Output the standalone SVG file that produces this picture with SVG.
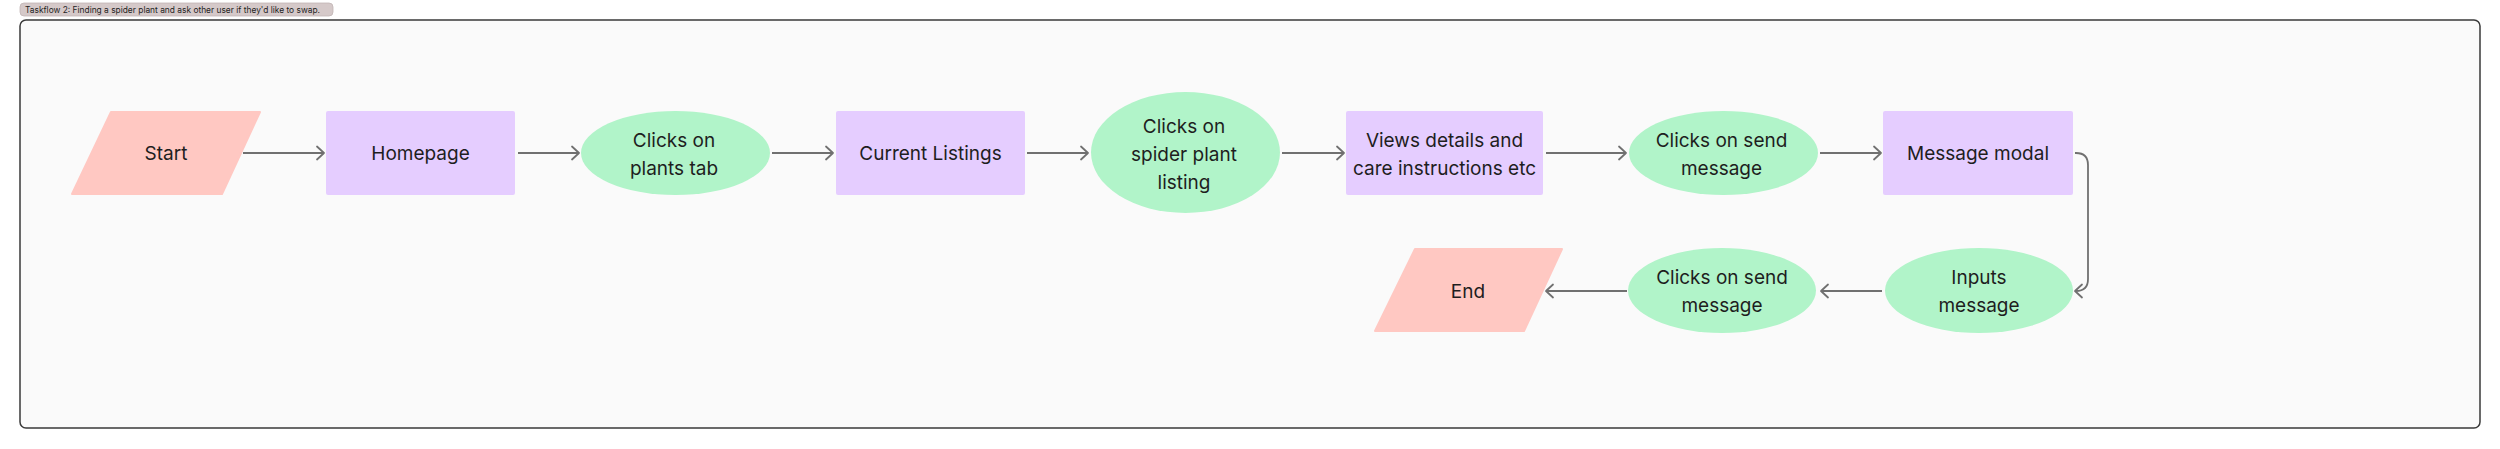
<svg xmlns="http://www.w3.org/2000/svg" width="2500" height="449" viewBox="0 0 2500 449">
<defs>
<style>
.t{font-family:Inter,"Noto Sans","Liberation Sans",sans-serif;font-size:19px;fill:#1e1e1e;text-anchor:middle}
.par{fill:#ffc8c2;stroke:#ffc8c2;stroke-width:2;stroke-linejoin:round}
.rec{fill:#e5cdff}
.ell{fill:#b1f4c9}
.con{fill:none;stroke:#707070;stroke-width:1.8}
</style>
<marker id="ah" markerUnits="userSpaceOnUse" markerWidth="20" markerHeight="20" viewBox="-10 -10 20 20" refX="0" refY="0" orient="auto">
<path d="M-7,-6.5 L0,0 L-7,6.5" fill="none" stroke="#707070" stroke-width="1.8" stroke-linecap="round" stroke-linejoin="round"/>
</marker>
</defs>
<rect x="0" y="0" width="2500" height="449" fill="#ffffff"/>
<g id="title">
<rect x="20" y="3" width="313" height="13" rx="4" fill="#d5c9c9" stroke="#c2b5b5" stroke-width="0.8"/>
<text x="25" y="12.8" style="font-family:Inter,'Noto Sans','Liberation Sans',sans-serif;font-size:8.4px;fill:#1e1e1e">Taskflow 2: Finding a spider plant and ask other user if they'd like to swap.</text>
</g>
<g id="frame">
<rect x="20" y="20" width="2460" height="408" rx="6" fill="#fafafa" stroke="#3a3a3a" stroke-width="1.5"/>
</g>
<g id="connectors">
<path class="con" marker-end="url(#ah)" d="M243,153 L324,153"/>
<path class="con" marker-end="url(#ah)" d="M518,153 L579,153"/>
<path class="con" marker-end="url(#ah)" d="M772,153 L833,153"/>
<path class="con" marker-end="url(#ah)" d="M1027,153 L1088,153"/>
<path class="con" marker-end="url(#ah)" d="M1282,153 L1344,153"/>
<path class="con" marker-end="url(#ah)" d="M1546,153 L1626,153"/>
<path class="con" marker-end="url(#ah)" d="M1820,153 L1881,153"/>
<path class="con" marker-end="url(#ah)" d="M2075,153 L2076,153 Q2088,153 2088,165 L2088,279 Q2088,291 2076,291 L2075,291"/>
<path class="con" marker-end="url(#ah)" d="M1882,291 L1821,291"/>
<path class="con" marker-end="url(#ah)" d="M1627,291 L1546,291"/>
</g>
<g id="start">
<polygon class="par" points="111,112 260,112 222,194 72,194"/>
<text class="t" x="166" y="160">Start</text>
</g>
<g id="homepage">
<rect class="rec" x="326" y="111" width="189" height="84" rx="2"/>
<text class="t" x="420.5" y="160">Homepage</text>
</g>
<g id="plants-tab">
<ellipse class="ell" cx="675.5" cy="153" rx="94.5" ry="42"/>
<text class="t" x="674" y="146.5">Clicks on</text>
<text class="t" x="674" y="174.5">plants tab</text>
</g>
<g id="current-listings">
<rect class="rec" x="836" y="111" width="189" height="84" rx="2"/>
<text class="t" x="930.5" y="160">Current Listings</text>
</g>
<g id="spider-listing">
<ellipse class="ell" cx="1185.5" cy="152.5" rx="94.5" ry="60.5"/>
<text class="t" x="1184" y="132.5">Clicks on</text>
<text class="t" x="1184" y="160.5">spider plant</text>
<text class="t" x="1184" y="188.5">listing</text>
</g>
<g id="views-details">
<rect class="rec" x="1346" y="111" width="197" height="84" rx="2"/>
<text class="t" x="1444.5" y="146.5">Views details and</text>
<text class="t" x="1444.5" y="174.5">care instructions etc</text>
</g>
<g id="send-message-1">
<ellipse class="ell" cx="1723.5" cy="153" rx="94.5" ry="42"/>
<text class="t" x="1721.5" y="146.5">Clicks on send</text>
<text class="t" x="1721.5" y="174.5">message</text>
</g>
<g id="message-modal">
<rect class="rec" x="1883" y="111" width="190" height="84" rx="2"/>
<text class="t" x="1978" y="160">Message modal</text>
</g>
<g id="inputs-message">
<ellipse class="ell" cx="1979" cy="290.5" rx="94" ry="42.5"/>
<text class="t" x="1979" y="284">Inputs</text>
<text class="t" x="1979" y="312">message</text>
</g>
<g id="send-message-2">
<ellipse class="ell" cx="1722" cy="290.5" rx="94" ry="42.5"/>
<text class="t" x="1722" y="284">Clicks on send</text>
<text class="t" x="1722" y="312">message</text>
</g>
<g id="end">
<polygon class="par" points="1415,249 1562,249 1524,331 1375,331"/>
<text class="t" x="1468" y="298">End</text>
</g>
</svg>
